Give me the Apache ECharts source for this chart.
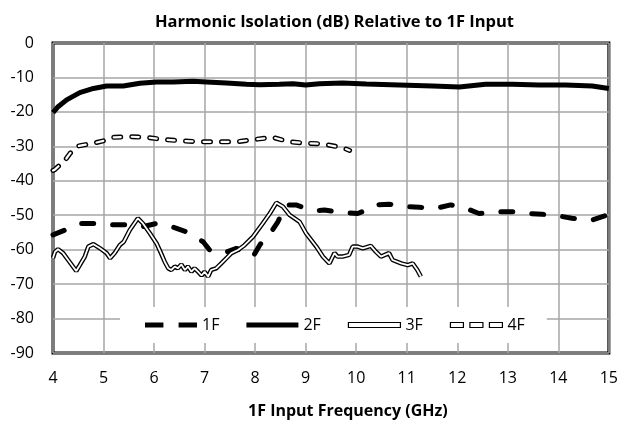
<!DOCTYPE html>
<html lang="en">
<head>
    <meta charset="UTF-8">
    <title>Harmonic Isolation</title>
    <script src="https://cdn.jsdelivr.net/npm/echarts@6/dist/echarts.min.js"></script>
</head>
<style>
    html, body { margin: 0; padding: 0; background: #fff; }
    #chart { width: 621px; height: 429px; }
</style>
<body>
    <div id="chart"></div>
    <script>
        // x axis ticks (GHz) and y axis ticks (dB)
        var xTicks = [4, 15, 1];
        var yTicks = [-90, 0, 10];

        // 1F
        var f1F = [4.0, 4.24, 4.53, 4.86, 5.19, 5.45, 5.78, 6.05, 6.38, 6.64, 6.97, 7.1, 7.25, 7.45, 7.63, 7.8, 7.96, 8.09, 8.2, 8.32, 8.45, 8.61, 8.81, 9.0, 9.21, 9.37, 9.6, 9.8, 10.03, 10.2, 10.36, 10.65, 10.98, 11.25, 11.58, 11.87, 12.17, 12.43, 12.83, 13.09, 13.42, 13.68, 14.08, 14.27, 14.67, 15.0];
        var v1F = [-55.7, -54.3, -52.4, -52.4, -52.8, -52.8, -53.3, -52.4, -53.5, -54.8, -57.7, -60.1, -61.0, -60.6, -59.6, -61.0, -62.0, -58.7, -56.5, -54.8, -51.9, -47.0, -47.0, -48.0, -48.7, -48.5, -49.0, -49.3, -49.5, -48.5, -47.0, -46.8, -47.5, -47.7, -48.0, -47.0, -48.0, -49.5, -49.0, -49.0, -49.5, -49.7, -50.4, -50.9, -51.4, -49.8];

        // 2F
        var f2F = [4.0, 4.1, 4.27, 4.53, 4.8, 5.06, 5.39, 5.72, 6.05, 6.38, 6.77, 7.04, 7.43, 7.83, 8.09, 8.48, 8.75, 9.0, 9.27, 9.73, 10.2, 10.85, 11.51, 12.04, 12.56, 13.09, 13.62, 14.14, 14.67, 15.0];
        var v2F = [-20.2, -18.5, -16.5, -14.4, -13.2, -12.5, -12.5, -11.7, -11.3, -11.3, -11.1, -11.3, -11.6, -12.0, -12.1, -12.0, -11.8, -12.2, -11.8, -11.6, -11.9, -12.2, -12.5, -12.8, -12.0, -12.0, -12.2, -12.2, -12.5, -13.2];

        // 3F
        var f3F = [4.0, 4.04, 4.1, 4.2, 4.3, 4.46, 4.53, 4.63, 4.7, 4.8, 4.93, 5.06, 5.13, 5.22, 5.32, 5.4, 5.52, 5.68, 5.78, 5.92, 6.05, 6.11, 6.21, 6.28, 6.34, 6.41, 6.47, 6.54, 6.61, 6.67, 6.74, 6.8, 6.87, 6.94, 7.0, 7.07, 7.13, 7.23, 7.33, 7.43, 7.53, 7.66, 7.79, 7.96, 8.15, 8.29, 8.42, 8.55, 8.68, 8.88, 9.01, 9.21, 9.34, 9.47, 9.57, 9.63, 9.73, 9.86, 9.93, 10.03, 10.13, 10.29, 10.39, 10.49, 10.65, 10.72, 10.89, 11.02, 11.12, 11.21, 11.28];
        var v3F = [-62.4, -60.6, -59.9, -61.0, -63.0, -66.2, -64.5, -62.0, -59.1, -58.4, -59.6, -61.0, -62.5, -61.0, -58.7, -57.7, -54.3, -50.9, -52.4, -55.3, -58.2, -60.1, -63.5, -65.4, -65.9, -64.9, -65.4, -64.3, -65.9, -64.9, -66.4, -65.4, -66.4, -67.5, -66.4, -67.8, -65.9, -65.4, -64.0, -62.5, -61.0, -60.1, -58.7, -56.2, -52.4, -49.5, -46.4, -47.5, -49.9, -51.9, -55.3, -59.1, -62.0, -64.0, -61.0, -62.0, -62.0, -61.5, -59.1, -59.1, -59.6, -58.9, -60.6, -62.0, -61.0, -63.0, -64.0, -64.5, -64.0, -65.9, -67.8];

        // 4F
        var f4F = [4.0, 4.04, 4.24, 4.34, 4.5, 4.8, 5.0, 5.19, 5.52, 5.85, 6.18, 6.54, 6.9, 7.26, 7.63, 7.99, 8.35, 8.68, 9.01, 9.34, 9.73, 9.87];
        var v4F = [-37.0, -36.7, -34.0, -32.0, -29.9, -29.1, -28.4, -27.4, -27.2, -27.4, -28.0, -28.4, -28.7, -28.7, -28.7, -28.0, -27.4, -28.7, -29.1, -29.3, -30.4, -31.2];

        var seriesNames = ['1F', '2F', '3F', '4F'];

        function pairs(xs, ys) {
            var out = [];
            for (var i = 0; i < xs.length; i++) out.push([xs[i], ys[i]]);
            return out;
        }

        var font = '"Open Sans", "Noto Sans", sans-serif';
        var chart = echarts.init(document.getElementById('chart'), null, { renderer: 'canvas' });

        var option = {
            animation: false,
            title: {
                text: 'Harmonic Isolation (dB) Relative to 1F Input',
                left: 150,
                top: 9,
                textStyle: { fontFamily: font, fontSize: 16.5, fontWeight: 'bold', color: '#000' }
            },
            grid: {
                left: 53, right: 11, top: 43, bottom: 76,
                show: true,
                borderColor: '#000',
                borderWidth: 3,
                backgroundColor: 'transparent'
            },
            legend: {
                left: 120,
                top: 307,
                padding: [10, 22, 10, 25],
                backgroundColor: '#fff',
                itemWidth: 52,
                itemHeight: 5,
                itemGap: 27,
                selectedMode: false,
                symbolKeepAspect: false,
                textStyle: { fontFamily: font, fontSize: 16, color: '#000' },
                data: [
                    { name: seriesNames[0], icon: 'path://M0,0h17v5h-17z M31,0h17v5h-17z', itemStyle: { color: '#000', borderWidth: 0 } },
                    { name: seriesNames[1], icon: 'rect', itemStyle: { color: '#000', borderWidth: 0 } },
                    { name: seriesNames[2], icon: 'rect', itemStyle: { color: '#fff', borderColor: '#000', borderWidth: 1.2 } },
                    { name: seriesNames[3], icon: 'path://M0,0h12v5h-12z M18,0h12v5h-12z M36,0h12v5h-12z', itemStyle: { color: '#fff', borderColor: '#000', borderWidth: 1.2 } }
                ]
            },
            xAxis: {
                type: 'value',
                min: xTicks[0], max: xTicks[1], interval: xTicks[2],
                name: '1F Input Frequency (GHz)',
                nameLocation: 'middle',
                nameGap: 50,
                nameTextStyle: { fontFamily: font, fontSize: 16, fontWeight: 'bold', color: '#000', padding: [0, 0, 0, 34] },
                axisLine: { show: false },
                axisTick: { show: false },
                axisLabel: { margin: 17, fontFamily: font, fontSize: 16, color: '#000' },
                splitLine: { lineStyle: { color: '#a6a6a6', width: 1.5 } }
            },
            yAxis: {
                type: 'value',
                min: yTicks[0], max: yTicks[1], interval: yTicks[2],
                axisLine: { show: false },
                axisTick: { show: false },
                axisLabel: { margin: 19, fontFamily: font, fontSize: 16, color: '#000' },
                splitLine: { lineStyle: { color: '#a6a6a6', width: 1.5 } }
            },
            series: [
                {
                    name: '1F', type: 'line', symbol: 'none', z: 3,
                    data: pairs(f1F, v1F),
                    lineStyle: { color: '#000', width: 5, type: [12, 19], cap: 'round' },
                    itemStyle: { color: '#000' }
                },
                {
                    name: '2F', type: 'line', symbol: 'none', z: 3,
                    data: pairs(f2F, v2F),
                    lineStyle: { color: '#000', width: 5 },
                    itemStyle: { color: '#000' }
                },
                {
                    name: '3F', type: 'line', symbol: 'none', z: 3,
                    data: pairs(f3F, v3F),
                    lineStyle: { color: '#000', width: 4.5 },
                    itemStyle: { color: '#000' }
                },
                {
                    name: '3F-inner', type: 'line', symbol: 'none', z: 4,
                    data: pairs(f3F, v3F),
                    lineStyle: { color: '#fff', width: 1.8 },
                    itemStyle: { color: '#fff' }
                },
                {
                    name: '4F', type: 'line', symbol: 'none', z: 3,
                    data: pairs(f4F, v4F),
                    lineStyle: { color: '#000', width: 5, type: [7, 11], cap: 'round' },
                    itemStyle: { color: '#000' }
                },
                {
                    name: '4F-inner', type: 'line', symbol: 'none', z: 4,
                    data: pairs(f4F, v4F),
                    lineStyle: { color: '#fff', width: 2.2, type: [7, 11], cap: 'round' },
                    itemStyle: { color: '#fff' }
                }
            ]
        };
        chart.setOption(option);
    </script>
</body>
</html>
